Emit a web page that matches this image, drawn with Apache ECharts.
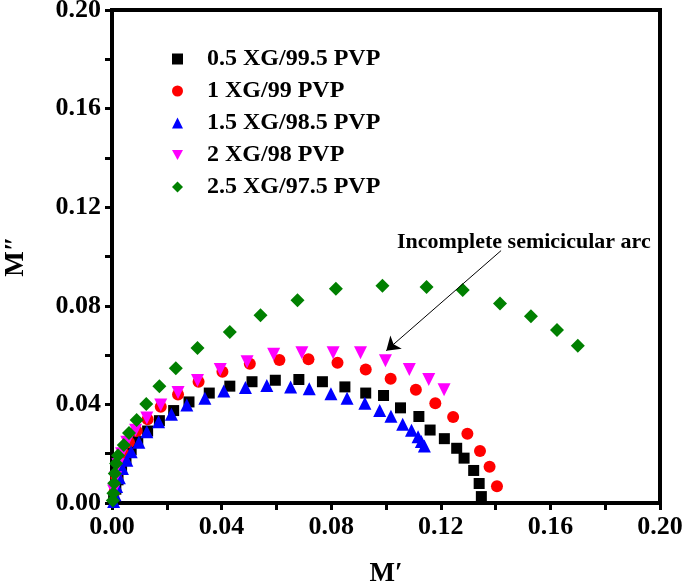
<!DOCTYPE html>
<html>
<head>
<meta charset="utf-8">
<script src="https://cdn.jsdelivr.net/npm/echarts@6/dist/echarts.min.js"></script>
<style>html,body{margin:0;padding:0;background:#fff;}#c{width:685px;height:586px;}</style>
</head>
<body>
<div id="c"></div>
<script>
var seriesNames = ['0.5 XG/99.5 PVP', '1 XG/99 PVP', '1.5 XG/98.5 PVP', '2 XG/98 PVP', '2.5 XG/97.5 PVP'];
var xTicks = [0.00, 0.04, 0.08, 0.12, 0.16, 0.20];
var yTicks = [0.00, 0.04, 0.08, 0.12, 0.16, 0.20];

var s05 = [[0.0006,0.0018],[0.0014,0.0056],[0.0022,0.0094],[0.0035,0.014],[0.0051,0.0178],[0.007,0.0216],[0.0094,0.0249],[0.013,0.0292],[0.0173,0.0334],[0.0225,0.0375],[0.0281,0.041],[0.0355,0.0446],[0.043,0.0474],[0.0511,0.0492],[0.0596,0.0498],[0.0682,0.0501],[0.0768,0.0492],[0.085,0.0471],[0.0926,0.0446],[0.0991,0.0436],[0.1053,0.0386],[0.112,0.0351],[0.1161,0.0296],[0.1213,0.0261],[0.1258,0.0222],[0.1285,0.0182],[0.132,0.0132],[0.134,0.0079],[0.1348,0.0026]];
var s10 = [[0.001,0.0049],[0.0016,0.0102],[0.0027,0.0155],[0.0043,0.02],[0.0062,0.0246],[0.009,0.0292],[0.013,0.034],[0.0178,0.039],[0.0241,0.044],[0.0316,0.0492],[0.0403,0.0532],[0.0503,0.0565],[0.0611,0.058],[0.0717,0.0583],[0.0823,0.0569],[0.0926,0.0542],[0.1017,0.0504],[0.1109,0.0459],[0.118,0.0405],[0.1245,0.0349],[0.1297,0.0281],[0.1343,0.0211],[0.1378,0.0147],[0.1405,0.0068]];
var s15 = [[0.0006,0.0006],[0.0011,0.0033],[0.0017,0.0067],[0.0027,0.0102],[0.0038,0.014],[0.0054,0.0173],[0.007,0.0208],[0.0098,0.0246],[0.0127,0.0289],[0.017,0.033],[0.0217,0.036],[0.0273,0.0398],[0.0339,0.0425],[0.0408,0.0454],[0.0487,0.0469],[0.0565,0.0477],[0.0652,0.0471],[0.072,0.0463],[0.0799,0.0443],[0.0858,0.0425],[0.0923,0.0405],[0.0977,0.0375],[0.1018,0.0352],[0.1061,0.0319],[0.1093,0.0295],[0.1117,0.0269],[0.1129,0.0249],[0.114,0.0231]];
var s20 = [[0.0006,0.0049],[0.0013,0.0102],[0.0022,0.0155],[0.0035,0.02],[0.0054,0.0246],[0.0086,0.0295],[0.0127,0.0345],[0.0178,0.0398],[0.0241,0.0448],[0.0312,0.0497],[0.0395,0.0542],[0.0493,0.0573],[0.059,0.0603],[0.0693,0.061],[0.0807,0.061],[0.0907,0.061],[0.0998,0.0577],[0.1085,0.0542],[0.1156,0.0501],[0.1212,0.0459]];
var s25 = [[0.0003,0.001],[0.0005,0.004],[0.0008,0.008],[0.001,0.012],[0.0015,0.016],[0.0022,0.0193],[0.0043,0.0235],[0.0062,0.0284],[0.009,0.0337],[0.0125,0.0402],[0.0173,0.0474],[0.0233,0.0547],[0.0312,0.0629],[0.043,0.0694],[0.0542,0.0762],[0.0677,0.0823],[0.0817,0.0869],[0.0987,0.0881],[0.1148,0.0876],[0.128,0.0864],[0.1416,0.0809],[0.1529,0.0758],[0.1624,0.0702],[0.170,0.0638]];

var annotationText = 'Incomplete semicicular arc';
var arrowStart = [0.142, 0.1024];
var arrowEnd = [0.1001, 0.0618];

var FONT = '"Liberation Serif", "Times New Roman", serif';
var colors = ['#000000', '#ff0000', '#0000ff', '#ff00ff', '#008000'];
var symbols = ['rect', 'circle', 'triangle', 'path://M0,0 L10,0 L5,9 Z', 'diamond'];
var sizes = [11, 12, 13, 13, 14];
var datas = [s05, s10, s15, s20, s25];

var series = seriesNames.map(function (n, i) {
  return {
    name: n,
    type: 'scatter',
    data: datas[i],
    symbol: symbols[i],
    symbolSize: sizes[i],
    itemStyle: { color: colors[i], opacity: 1 },
    clip: false
  };
});
series.push({
  type: 'scatter',
  data: [],
  silent: true,
  markLine: {
    silent: true,
    symbol: ['none', 'arrow'],
    symbolSize: 13,
    label: { show: false },
    lineStyle: { color: '#000', width: 1, type: 'solid' },
    data: [[{ coord: arrowStart }, { coord: arrowEnd }]]
  }
});

var chart = echarts.init(document.getElementById('c'), null, { renderer: 'canvas' });
var axisLabelStyle = { color: '#000', fontFamily: FONT, fontWeight: 'bold', fontSize: 26 };
chart.setOption({
  animation: false,
  backgroundColor: '#fff',
  grid: { left: 112, right: 25, top: 10, bottom: 83, containLabel: false, outerBoundsMode: 'none', show: true, borderColor: '#000', borderWidth: 4, backgroundColor: 'transparent' },
  legend: {
    orient: 'vertical',
    left: 167,
    top: 42,
    itemWidth: 11,
    itemHeight: 11,
    itemGap: 8,
    selectedMode: false,
    textStyle: { color: '#000', fontFamily: FONT, fontWeight: 'bold', fontSize: 24, lineHeight: 23, padding: [0, 0, 0, 19] },
    data: seriesNames
  },
  xAxis: {
    type: 'value',
    min: xTicks[0],
    max: xTicks[xTicks.length - 1],
    interval: 0.04,
    name: 'M\u2032',
    nameLocation: 'middle',
    nameGap: 58,
    nameTextStyle: { color: '#000', fontFamily: FONT, fontWeight: 'bold', fontSize: 27 },
    axisLine: { show: true, onZero: false, lineStyle: { color: '#000', width: 4 } },
    axisTick: { show: true, inside: false, length: 7, lineStyle: { color: '#000', width: 3 } },
    minorTick: { show: true, splitNumber: 2, length: 7, lineStyle: { color: '#000', width: 3 } },
    splitLine: { show: false },
    axisLabel: Object.assign({ margin: 11, formatter: function (v) { return v.toFixed(2); } }, axisLabelStyle)
  },
  yAxis: {
    type: 'value',
    min: yTicks[0],
    max: yTicks[yTicks.length - 1],
    interval: 0.04,
    name: 'M\u2033',
    nameLocation: 'middle',
    nameGap: 82,
    nameTextStyle: { color: '#000', fontFamily: FONT, fontWeight: 'bold', fontSize: 27 },
    axisLine: { show: true, onZero: false, lineStyle: { color: '#000', width: 4 } },
    axisTick: { show: true, inside: false, length: 7, lineStyle: { color: '#000', width: 3 } },
    minorTick: { show: true, splitNumber: 2, length: 7, lineStyle: { color: '#000', width: 3 } },
    splitLine: { show: false },
    axisLabel: Object.assign({ margin: 11, formatter: function (v) { return v.toFixed(2); } }, axisLabelStyle)
  },
  graphic: [{
    type: 'text',
    left: 397,
    top: 231,
    style: { text: annotationText, fill: '#000', font: 'bold 22px ' + FONT }
  }],
  series: series
});
</script>
</body>
</html>
